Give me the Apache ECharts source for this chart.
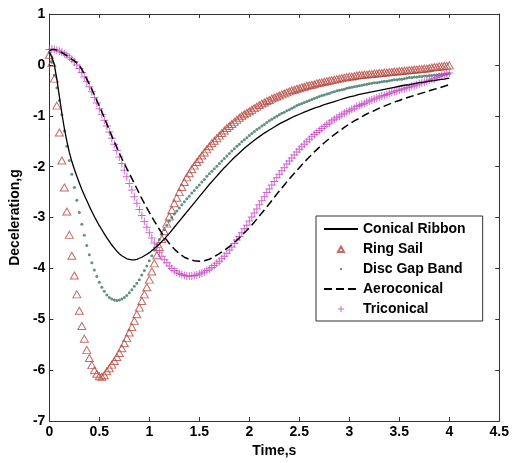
<!DOCTYPE html>
<html>
<head>
<meta charset="utf-8">
<script src="https://cdn.jsdelivr.net/npm/echarts@6.0.0/dist/echarts.min.js"></script>
<style>
html, body { margin: 0; padding: 0; background: #fff; }
#main { width: 512px; height: 463px; }
</style>
</head>
<body>
<div id="main"></div>
<script>
// time samples (s) for the two line curves
var timeLine = [0, 0.025, 0.05, 0.075, 0.1, 0.125, 0.15, 0.175, 0.2, 0.225, 0.25, 0.275, 0.3, 0.325, 0.35, 0.375, 0.4, 0.425, 0.45, 0.475,
    0.5, 0.525, 0.55, 0.575, 0.6, 0.625, 0.65, 0.675, 0.7, 0.725, 0.75, 0.775, 0.8, 0.825, 0.85, 0.875, 0.9, 0.925, 0.95, 0.975, 1.0,
    1.05, 1.1, 1.15, 1.2, 1.25, 1.3, 1.35, 1.4, 1.45, 1.5, 1.55, 1.6, 1.65, 1.7, 1.75, 1.8, 1.85, 1.9, 1.95, 2.0,
    2.05, 2.1, 2.15, 2.2, 2.25, 2.3, 2.35, 2.4, 2.45, 2.5, 2.55, 2.6, 2.65, 2.7, 2.75, 2.8, 2.85, 2.9, 2.95, 3.0,
    3.05, 3.1, 3.15, 3.2, 3.25, 3.3, 3.35, 3.4, 3.45, 3.5, 3.55, 3.6, 3.65, 3.7, 3.75, 3.8, 3.85, 3.9, 3.95, 4.0];

// time samples (s) for the marker curves
var timeMarker = [0, 0.025, 0.05, 0.075, 0.1, 0.125, 0.15, 0.175, 0.2, 0.225, 0.25, 0.275, 0.3, 0.325, 0.35, 0.375, 0.4, 0.425, 0.45, 0.475,
    0.5, 0.525, 0.55, 0.575, 0.6, 0.625, 0.65, 0.675, 0.7, 0.725, 0.75, 0.775, 0.8, 0.825, 0.85, 0.875, 0.9, 0.925, 0.95, 0.975, 1.0,
    1.025, 1.05, 1.075, 1.1, 1.125, 1.15, 1.175, 1.2, 1.225, 1.25, 1.275, 1.3, 1.325, 1.35, 1.375, 1.4, 1.425, 1.45, 1.475, 1.5,
    1.525, 1.55, 1.575, 1.6, 1.625, 1.65, 1.675, 1.7, 1.725, 1.75, 1.775, 1.8, 1.825, 1.85, 1.875, 1.9, 1.925, 1.95, 1.975, 2.0,
    2.025, 2.05, 2.075, 2.1, 2.125, 2.15, 2.175, 2.2, 2.225, 2.25, 2.275, 2.3, 2.325, 2.35, 2.375, 2.4, 2.425, 2.45, 2.475, 2.5,
    2.525, 2.55, 2.575, 2.6, 2.625, 2.65, 2.675, 2.7, 2.725, 2.75, 2.775, 2.8, 2.825, 2.85, 2.875, 2.9, 2.925, 2.95, 2.975, 3.0,
    3.025, 3.05, 3.075, 3.1, 3.125, 3.15, 3.175, 3.2, 3.225, 3.25, 3.275, 3.3, 3.325, 3.35, 3.375, 3.4, 3.425, 3.45, 3.475, 3.5,
    3.525, 3.55, 3.575, 3.6, 3.625, 3.65, 3.675, 3.7, 3.725, 3.75, 3.775, 3.8, 3.825, 3.85, 3.875, 3.9, 3.925, 3.95, 3.975, 4.0];

// deceleration (g)
var conicalRibbon = [0.25, 0.15, 0.00, -0.28, -0.62, -0.95, -1.25, -1.50, -1.72, -1.90, -2.05, -2.19, -2.32, -2.45, -2.56, -2.67, -2.78, -2.88, -2.98, -3.07,
    -3.16, -3.24, -3.32, -3.40, -3.47, -3.54, -3.60, -3.66, -3.71, -3.75, -3.78, -3.81, -3.82, -3.83, -3.83, -3.82, -3.80, -3.78, -3.75, -3.72, -3.69,
    -3.61, -3.52, -3.42, -3.31, -3.19, -3.07, -2.95, -2.83, -2.71, -2.59, -2.47, -2.35, -2.24, -2.13, -2.02, -1.92, -1.82, -1.73, -1.64, -1.56,
    -1.48, -1.41, -1.34, -1.28, -1.22, -1.16, -1.11, -1.06, -1.01, -0.97, -0.93, -0.89, -0.85, -0.82, -0.78, -0.75, -0.72, -0.69, -0.66, -0.63,
    -0.61, -0.58, -0.56, -0.54, -0.52, -0.50, -0.48, -0.46, -0.44, -0.42, -0.40, -0.39, -0.37, -0.35, -0.34, -0.32, -0.31, -0.29, -0.28, -0.26];

var aeroconical = [0.28, 0.30, 0.30, 0.29, 0.27, 0.24, 0.21, 0.18, 0.14, 0.11, 0.08, 0.04, -0.01, -0.09, -0.18, -0.28, -0.38, -0.48, -0.59, -0.70,
    -0.81, -0.92, -1.04, -1.16, -1.28, -1.40, -1.51, -1.62, -1.73, -1.84, -1.94, -2.04, -2.13, -2.23, -2.33, -2.43, -2.53, -2.63, -2.72, -2.81, -2.90,
    -3.07, -3.23, -3.38, -3.51, -3.62, -3.71, -3.78, -3.82, -3.85, -3.86, -3.85, -3.82, -3.77, -3.71, -3.64, -3.57, -3.49, -3.40, -3.30, -3.20,
    -3.09, -2.97, -2.85, -2.73, -2.60, -2.48, -2.36, -2.24, -2.13, -2.02, -1.91, -1.81, -1.71, -1.62, -1.53, -1.45, -1.37, -1.30, -1.23, -1.16,
    -1.10, -1.05, -0.99, -0.94, -0.90, -0.85, -0.81, -0.77, -0.73, -0.70, -0.66, -0.63, -0.60, -0.57, -0.54, -0.51, -0.48, -0.45, -0.42, -0.39];

var ringSail = [0.20, 0.04, -0.27, -0.80, -1.33, -1.88, -2.41, -2.88, -3.34, -3.75, -4.14, -4.51, -4.83, -5.13, -5.38, -5.60, -5.76, -5.90, -6.00, -6.07,
    -6.12, -6.13, -6.10, -6.02, -5.96, -5.89, -5.82, -5.74, -5.66, -5.57, -5.47, -5.37, -5.26, -5.15, -5.03, -4.90, -4.77, -4.64, -4.51, -4.37, -4.22,
    -4.06, -3.90, -3.74, -3.58, -3.42, -3.27, -3.12, -2.98, -2.85, -2.72, -2.61, -2.50, -2.40, -2.30, -2.21, -2.13, -2.05, -1.98, -1.91, -1.85,
    -1.78, -1.72, -1.66, -1.60, -1.54, -1.49, -1.44, -1.39, -1.34, -1.29, -1.24, -1.20, -1.16, -1.12, -1.08, -1.04, -1.00, -0.97, -0.94, -0.91,
    -0.88, -0.85, -0.82, -0.79, -0.76, -0.74, -0.71, -0.69, -0.66, -0.64, -0.62, -0.60, -0.58, -0.56, -0.54, -0.52, -0.50, -0.49, -0.47, -0.46,
    -0.44, -0.43, -0.41, -0.40, -0.39, -0.38, -0.36, -0.35, -0.34, -0.33, -0.32, -0.31, -0.30, -0.29, -0.28, -0.27, -0.26, -0.25, -0.24, -0.23,
    -0.23, -0.22, -0.21, -0.20, -0.20, -0.19, -0.19, -0.18, -0.18, -0.17, -0.17, -0.16, -0.16, -0.15, -0.15, -0.14, -0.14, -0.13, -0.13, -0.12,
    -0.12, -0.11, -0.11, -0.10, -0.10, -0.09, -0.09, -0.08, -0.08, -0.07, -0.07, -0.06, -0.05, -0.04, -0.04, -0.03, -0.03, -0.02, -0.02, -0.01];

var discGapBand = [0.25, 0.05, -0.20, -0.45, -0.70, -0.98, -1.30, -1.60, -1.88, -2.15, -2.41, -2.66, -2.90, -3.13, -3.35, -3.55, -3.73, -3.89, -4.03, -4.16,
    -4.27, -4.37, -4.45, -4.52, -4.57, -4.60, -4.62, -4.63, -4.62, -4.60, -4.57, -4.53, -4.48, -4.42, -4.35, -4.29, -4.22, -4.13, -4.04, -3.95, -3.85,
    -3.75, -3.64, -3.53, -3.43, -3.33, -3.24, -3.15, -3.07, -3.00, -2.93, -2.87, -2.81, -2.75, -2.69, -2.63, -2.58, -2.52, -2.47, -2.41, -2.36,
    -2.30, -2.25, -2.19, -2.14, -2.09, -2.04, -1.99, -1.94, -1.89, -1.84, -1.79, -1.74, -1.69, -1.65, -1.60, -1.56, -1.51, -1.47, -1.43, -1.39,
    -1.35, -1.31, -1.27, -1.24, -1.20, -1.17, -1.13, -1.10, -1.07, -1.04, -1.01, -0.98, -0.95, -0.93, -0.90, -0.88, -0.85, -0.83, -0.80, -0.78,
    -0.76, -0.74, -0.72, -0.70, -0.68, -0.66, -0.64, -0.62, -0.60, -0.59, -0.57, -0.56, -0.54, -0.53, -0.51, -0.50, -0.49, -0.48, -0.46, -0.45,
    -0.44, -0.43, -0.42, -0.41, -0.40, -0.39, -0.38, -0.37, -0.36, -0.35, -0.35, -0.34, -0.33, -0.32, -0.32, -0.31, -0.30, -0.29, -0.29, -0.28,
    -0.28, -0.27, -0.26, -0.25, -0.25, -0.24, -0.24, -0.23, -0.23, -0.22, -0.22, -0.21, -0.21, -0.20, -0.20, -0.19, -0.19, -0.18, -0.18, -0.17];

var triconical = [0.30, 0.31, 0.30, 0.29, 0.27, 0.25, 0.22, 0.19, 0.15, 0.11, 0.06, 0.00, -0.07, -0.15, -0.24, -0.33, -0.43, -0.53, -0.64, -0.75,
    -0.86, -0.97, -1.09, -1.20, -1.32, -1.44, -1.56, -1.68, -1.81, -1.94, -2.07, -2.20, -2.33, -2.46, -2.59, -2.72, -2.84, -2.96, -3.08, -3.19, -3.30,
    -3.40, -3.50, -3.59, -3.68, -3.76, -3.83, -3.89, -3.95, -4.00, -4.04, -4.07, -4.10, -4.12, -4.14, -4.15, -4.15, -4.15, -4.14, -4.13, -4.11,
    -4.09, -4.07, -4.04, -4.01, -3.98, -3.94, -3.90, -3.86, -3.81, -3.76, -3.70, -3.64, -3.58, -3.51, -3.44, -3.37, -3.30, -3.22, -3.15, -3.07,
    -2.99, -2.91, -2.83, -2.75, -2.67, -2.59, -2.51, -2.44, -2.36, -2.29, -2.22, -2.15, -2.08, -2.02, -1.95, -1.89, -1.83, -1.77, -1.71, -1.66,
    -1.61, -1.56, -1.51, -1.46, -1.41, -1.37, -1.33, -1.29, -1.25, -1.21, -1.17, -1.14, -1.10, -1.07, -1.04, -1.01, -0.98, -0.95, -0.92, -0.90,
    -0.87, -0.85, -0.82, -0.80, -0.78, -0.76, -0.73, -0.71, -0.69, -0.67, -0.65, -0.63, -0.61, -0.60, -0.58, -0.56, -0.54, -0.53, -0.51, -0.50,
    -0.48, -0.47, -0.45, -0.44, -0.42, -0.41, -0.39, -0.37, -0.35, -0.34, -0.32, -0.30, -0.28, -0.27, -0.25, -0.23, -0.21, -0.20, -0.18, -0.16];

var seriesNames = ['Conical Ribbon', 'Ring Sail', 'Disc Gap Band', 'Aeroconical', 'Triconical'];

function pairs(ts, ys) {
    return ts.map(function (t, i) { return [t, ys[i]]; });
}

var font = '"Liberation Sans", Arial, sans-serif';
var frame = { color: '#333', width: 1 };
var boldText = { color: '#000', fontWeight: 'bold', fontSize: 14, fontFamily: font };
var plusPath = 'path://M7,0H9V16H7Z M0,7H16V9H0Z';

// legend icons padded to the 34x8 legend box so they stay small
var iconTriangle = 'path://M0,0M34,8M14,7L17,1.5L20,7Z';
var iconDot = 'path://M0,0M34,8M16,3H18V5H16Z';
var iconPlus = 'path://M0,0M34,8M16.5,1H17.5V7H16.5Z M14,3.5H20V4.5H14Z';

var option = {
    animation: false,
    grid: { left: 49, right: 8, top: 14, bottom: 40 },
    legend: {
        orient: 'vertical',
        left: 316,
        top: 216,
        itemWidth: 34,
        itemHeight: 8,
        itemGap: 6,
        padding: [6, 17, 5, 7],
        borderColor: '#333',
        borderWidth: 1,
        backgroundColor: '#fff',
        selectedMode: false,
        textStyle: boldText,
        data: [
            { name: seriesNames[0], itemStyle: { opacity: 0 } },
            { name: seriesNames[1], icon: iconTriangle },
            { name: seriesNames[2], icon: iconDot },
            { name: seriesNames[3], itemStyle: { opacity: 0 } },
            { name: seriesNames[4], icon: iconPlus }
        ]
    },
    xAxis: [{
        type: 'value', min: 0, max: 4.5, interval: 0.5,
        name: 'Time,s', nameLocation: 'middle', nameGap: 22, nameTextStyle: boldText,
        axisLine: { onZero: false, lineStyle: frame },
        axisTick: { inside: true, length: 4, lineStyle: frame },
        axisLabel: Object.assign({ margin: 4 }, boldText),
        splitLine: { show: false }
    }, {
        type: 'value', position: 'top', min: 0, max: 4.5, interval: 0.5,
        axisLine: { onZero: false, lineStyle: frame },
        axisTick: { inside: true, length: 4, lineStyle: frame },
        axisLabel: { show: false },
        splitLine: { show: false }
    }],
    yAxis: [{
        type: 'value', min: -7, max: 1, interval: 1,
        name: 'Deceleration,g', nameLocation: 'middle', nameGap: 23, nameTextStyle: boldText,
        axisLine: { onZero: false, lineStyle: frame },
        axisTick: { inside: true, length: 4, lineStyle: frame },
        axisLabel: Object.assign({ margin: 4 }, boldText),
        splitLine: { show: false }
    }, {
        type: 'value', position: 'right', min: -7, max: 1, interval: 1,
        axisLine: { onZero: false, lineStyle: frame },
        axisTick: { inside: true, length: 4, lineStyle: frame },
        axisLabel: { show: false },
        splitLine: { show: false }
    }],
    series: [{
        name: seriesNames[0], type: 'line', data: pairs(timeLine, conicalRibbon),
        symbol: 'none', lineStyle: { color: '#000', width: 1.3 }, itemStyle: { color: '#000' }
    }, {
        name: seriesNames[1], type: 'scatter', data: pairs(timeMarker, ringSail),
        symbol: 'triangle', symbolSize: [8, 7],
        itemStyle: { color: 'rgba(0,0,0,0)', borderColor: '#b5473f', borderWidth: 1 }
    }, {
        name: seriesNames[2], type: 'scatter', data: pairs(timeMarker, discGapBand),
        symbol: 'circle', symbolSize: 3,
        itemStyle: { color: '#3b7565' }
    }, {
        name: seriesNames[3], type: 'line', data: pairs(timeLine, aeroconical),
        symbol: 'none', lineStyle: { color: '#000', width: 1.5, type: [8, 4] }, itemStyle: { color: '#000' }
    }, {
        name: seriesNames[4], type: 'scatter', data: pairs(timeMarker, triconical),
        symbol: plusPath, symbolSize: 8,
        itemStyle: { color: '#c444c4' }
    }]
};

echarts.init(document.getElementById('main')).setOption(option);
</script>
</body>
</html>
